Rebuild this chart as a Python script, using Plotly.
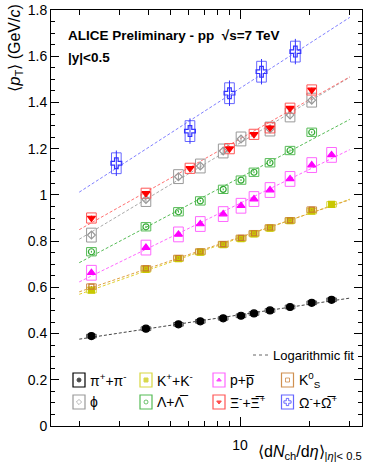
import numpy as np
import plotly.graph_objects as go

# ---------------- data ----------------
x_all = [2.26, 3.90, 5.40, 6.72, 8.45, 10.1, 11.5, 13.5, 16.5, 20.5, 25.0]
x_v0 = x_all[:10]
x_phi = [2.26, 3.90, 5.40, 6.72, 8.45, 10.1, 13.5, 16.5, 20.5]
x_xi = [2.26, 3.90, 6.06, 9.0, 11.5, 13.5, 16.5, 20.5]
x_omega = [2.9, 6.06, 9.0, 12.4, 17.4]

pion = [0.389, 0.421, 0.440, 0.453, 0.466, 0.477, 0.487, 0.500, 0.515, 0.533, 0.546]
kaon = [0.588, 0.678, 0.724, 0.752, 0.785, 0.811, 0.831, 0.856, 0.888, 0.930, 0.959]
proton = [0.663, 0.772, 0.829, 0.874, 0.917, 0.953, 0.982, 1.021, 1.069, 1.129, 1.173]
k0s = [0.603, 0.682, 0.727, 0.755, 0.787, 0.814, 0.834, 0.859, 0.890, 0.936]
lam = [0.754, 0.862, 0.927, 0.974, 1.024, 1.064, 1.098, 1.139, 1.192, 1.271]
phi = [0.826, 0.980, 1.079, 1.125, 1.190, 1.242, 1.285, 1.346, 1.410]
xi = [0.900, 1.007, 1.115, 1.200, 1.262, 1.290, 1.375, 1.454]
omega = [1.137, 1.276, 1.440, 1.533, 1.620]

# systematic (box half-height) and statistical uncertainties
sys_pion, stat_pion = 0.008, 0.002
sys_kaon, stat_kaon = 0.012, 0.002
sys_proton, stat_proton = 0.032, 0.004
sys_k0s, stat_k0s = 0.012, 0.003
sys_lam, stat_lam = 0.018, 0.004
sys_phi, stat_phi = 0.030, 0.015
sys_xi, stat_xi = 0.022, 0.010
sys_omega, stat_omega = 0.045, 0.055

fit_range = [2.0, 30.0]
x_ticks_major = [10]
x_ticks_minor = [2, 3, 4, 5, 6, 7, 8, 9, 20, 30]

species = [
    # name, x, y, sys, stat, symbol, marker colour, box colour, fit colour, size
    ("pion", x_all, pion, sys_pion, stat_pion, "circle", "#000000", "#555555", "#444444", 7),
    ("kaon", x_all, kaon, sys_kaon, stat_kaon, "square", "#c8c800", "#d8d840", "#e0d030", 6),
    ("k0s", x_v0, k0s, sys_k0s, stat_k0s, "square-open", "#c87a30", "#d09050", "#e0a040", 5),
    ("proton", x_all, proton, sys_proton, stat_proton, "triangle-up", "#ff00ff", "#ff66ff", "#ff66ff", 7),
    ("lambda", x_v0, lam, sys_lam, stat_lam, "circle-open", "#33aa33", "#55bb55", "#55bb55", 6),
    ("phi", x_phi, phi, sys_phi, stat_phi, "diamond-open", "#999999", "#999999", "#aaaaaa", 6),
    ("xi", x_xi, xi, sys_xi, stat_xi, "triangle-down", "#ff0000", "#ff5555", "#ff7070", 7),
    ("omega", x_omega, omega, sys_omega, stat_omega, "cross-open", "#3333ff", "#6666ff", "#8080ff", 9),
]

FONT = "Liberation Sans, Arial, sans-serif"
fig = go.Figure()

# fit lines
for name, xs, ys, s, st, sym, mc, bc, fc, sz in species:
    b, a = np.polyfit(np.log10(xs), ys, 1)
    fx = np.array(fit_range)
    fig.add_trace(go.Scatter(x=fx, y=a + b * np.log10(fx), mode="lines",
                             line=dict(color=fc, width=1, dash="3px,2px"),
                             hoverinfo="skip", showlegend=False))

# systematic boxes
f = 10 ** 0.021
for name, xs, ys, s, st, sym, mc, bc, fc, sz in species:
    bx, by = [], []
    for xv, yv in zip(xs, ys):
        bx += [xv / f, xv * f, xv * f, xv / f, xv / f, None]
        by += [yv - s, yv - s, yv + s, yv + s, yv - s, None]
    fig.add_trace(go.Scatter(x=bx, y=by, mode="lines", line=dict(color=bc, width=1),
                             hoverinfo="skip", showlegend=False))

# markers with stat errors
for name, xs, ys, s, st, sym, mc, bc, fc, sz in species:
    fig.add_trace(go.Scatter(x=xs, y=ys, mode="markers",
                             marker=dict(symbol=sym, color=mc, size=sz,
                                         line=dict(color=mc, width=1.2)),
                             error_y=dict(type="constant", value=st, color=mc,
                                          thickness=1, width=0),
                             showlegend=False, name=name))

# ---------------- custom legend ----------------
def px(x):
    return (x - 51) / 311


def py(y):
    return (426 - y) / 416


legend_labels = [
    "π<sup>+</sup>+π<sup>-</sup>", "K<sup>+</sup>+K<sup>-</sup>", "p+p\u0305", "K<sup>0</sup><sub>S</sub>",
    "ϕ", "Λ+Λ\u0305", "Ξ<sup>-</sup>+Ξ\u0305<sup>+</sup>", "Ω<sup>-</sup>+Ω\u0305<sup>+</sup>",
]
legend_order = ["pion", "kaon", "proton", "k0s", "phi", "lambda", "xi", "omega"]
spec = {s[0]: s for s in species}
col_box = [79, 146, 219, 287.5]
col_txt = [88, 155, 228, 297]
row_y = [380, 402]
shapes = []
annotations = []
lx, ly, lsym, lcol, lsz = [], [], [], [], []
for i, key in enumerate(legend_order):
    r, c = divmod(i, 4)
    name, xs, ys, s, st, sym, mc, bc, fc, sz = spec[key]
    cx, cy = col_box[c], row_y[r]
    shapes.append(dict(type="rect", xref="paper", yref="paper",
                       x0=px(cx - 6), x1=px(cx + 6), y0=py(cy + 7), y1=py(cy - 7),
                       line=dict(color=bc if key != "pion" else "#000000", width=1.2)))
    lx.append(px(cx)); ly.append(py(cy)); lsym.append(sym); lcol.append(mc)
    lsz.append(max(sz - 3, 4))
    annotations.append(dict(xref="paper", yref="paper", x=px(col_txt[c]), y=py(cy),
                            xanchor="left", yanchor="middle", showarrow=False,
                            text=legend_labels[i], font=dict(size=14, color="black", family=FONT)))

fig.add_trace(go.Scatter(x=lx, y=ly, xaxis="x2", yaxis="y2", mode="markers",
                         marker=dict(symbol=lsym, color=lcol, size=lsz, line=dict(color=lcol, width=1)),
                         hoverinfo="skip", showlegend=False))

# Logarithmic fit entry
shapes.append(dict(type="line", xref="paper", yref="paper", x0=px(253), x1=px(268),
                   y0=py(355), y1=py(355), line=dict(color="#666666", width=1, dash="dot")))
annotations.append(dict(xref="paper", yref="paper", x=px(271), y=py(355), xanchor="left",
                        yanchor="middle", showarrow=False, text="Logarithmic fit",
                        font=dict(size=13, color="black", family=FONT)))

# header texts
annotations.append(dict(xref="paper", yref="paper", x=px(66), y=py(35), xanchor="left",
                        yanchor="middle", showarrow=False,
                        text="<b>ALICE Preliminary - pp  √s=7 TeV</b>",
                        font=dict(size=13.5, color="black", family=FONT)))
annotations.append(dict(xref="paper", yref="paper", x=px(66), y=py(57), xanchor="left",
                        yanchor="middle", showarrow=False, text="<b>|y|<0.5</b>",
                        font=dict(size=13.5, color="black", family=FONT)))

# axis titles
annotations.append(dict(xref="paper", yref="paper", x=px(15), y=py(3), xanchor="center",
                        yanchor="top", textangle=-90, showarrow=False,
                        text="⟨<i>p</i><sub>T</sub>⟩ (GeV/<i>c</i>)",
                        font=dict(size=16, color="black", family=FONT)))
annotations.append(dict(xref="paper", yref="paper", x=px(364), y=py(441), xanchor="right",
                        yanchor="top", showarrow=False,
                        text="⟨d<i>N</i><sub>ch</sub>/d<i>η</i>⟩<sub>|<i>η</i>|< 0.5</sub>",
                        font=dict(size=16, color="black", family=FONT)))

fig.update_layout(
    width=365, height=470,
    margin=dict(l=51, r=3, t=10, b=44),
    plot_bgcolor="white", paper_bgcolor="white",
    font=dict(family=FONT, size=14, color="black"),
    shapes=shapes, annotations=annotations,
    xaxis=dict(type="log", range=[np.log10(1.508), np.log10(33.9)],
               showline=True, linecolor="black", linewidth=1, mirror="allticks",
               ticks="inside", ticklen=9, tickcolor="black",
               tickmode="array", tickvals=x_ticks_major, ticktext=[str(v) for v in x_ticks_major],
               minor=dict(tickmode="array", tickvals=x_ticks_minor, ticks="inside",
                          ticklen=5, tickcolor="black"),
               showgrid=False, zeroline=False, tickfont=dict(size=14),
               ticklabelstandoff=6),
    yaxis=dict(range=[0, 1.8], tick0=0, dtick=0.2,
               showline=True, linecolor="black", linewidth=1, mirror="allticks",
               ticks="inside", ticklen=8, tickcolor="black",
               minor=dict(dtick=0.05, ticks="inside", ticklen=4, tickcolor="black"),
               showgrid=False, zeroline=False, tickfont=dict(size=14)),
    xaxis2=dict(overlaying="x", range=[0, 1], visible=False),
    yaxis2=dict(overlaying="y", range=[0, 1], visible=False),
)

fig.write_html("out.html", config={"displayModeBar": False},
               post_script="document.body.style.margin='0';document.body.style.overflow='hidden';")
